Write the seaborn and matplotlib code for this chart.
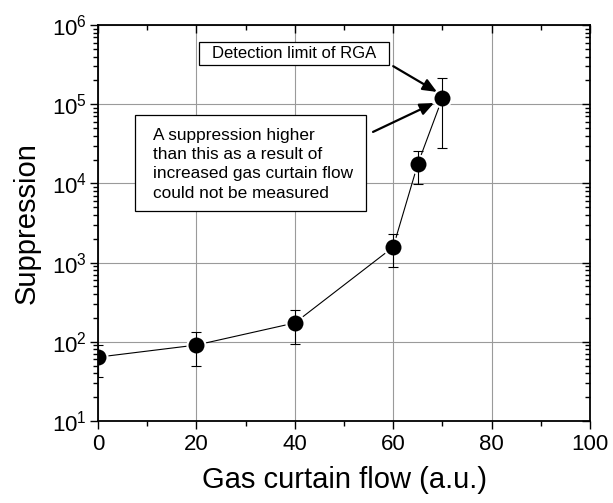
import matplotlib
matplotlib.use("Agg")
import matplotlib.pyplot as plt
import seaborn as sns
import pandas as pd
from matplotlib.patches import Rectangle
from matplotlib.ticker import LogLocator, MultipleLocator, NullFormatter

# ---- data ----
flow = [0, 20, 40, 60, 65, 70]
suppression = [64, 91, 173, 1570, 17600, 120000]
error = [28, 42, 79, 700, 7800, 92000]

x_ticks = [0, 20, 40, 60, 80, 100]
x_label = "Gas curtain flow (a.u.)"
y_label = "Suppression"
box1_text = "Detection limit of RGA"
box2_text = ("A suppression higher\nthan this as a result of\n"
             "increased gas curtain flow\ncould not be measured")

sns.set_theme(style="ticks")
plt.rcParams["font.family"] = ["Liberation Sans", "DejaVu Sans"]
plt.rcParams["mathtext.default"] = "regular"

df = pd.DataFrame({"flow": flow, "suppression": suppression, "error": error})

fig = plt.figure(figsize=(6.13, 5.03), dpi=100)
ax = fig.add_axes([98 / 613, 1 - 421 / 503, 492 / 613, 396 / 503])

ax.set_yscale("log")
ax.set_xlim(0, 100)
ax.set_ylim(10, 1e6)

ax.grid(True, which="major", color="#9a9a9a", linewidth=0.8, zorder=0)
ax.set_axisbelow(True)

sns.lineplot(data=df, x="flow", y="suppression", ax=ax, color="black",
             linewidth=0.8, marker="o", markersize=13,
             markerfacecolor="black", markeredgecolor="white",
             markeredgewidth=1.5, zorder=3, estimator=None, sort=False)
ax.errorbar(df["flow"], df["suppression"], yerr=df["error"], fmt="none",
            ecolor="black", elinewidth=0.8, capsize=3.5, capthick=0.8,
            zorder=4)

ax.set_xticks(x_ticks)
ax.xaxis.set_minor_locator(MultipleLocator(10))
ax.yaxis.set_major_locator(LogLocator(base=10, numticks=10))
ax.yaxis.set_minor_locator(LogLocator(base=10, subs=range(2, 10), numticks=20))
ax.yaxis.set_minor_formatter(NullFormatter())

ax.tick_params(axis="both", which="major", direction="out", length=6,
               width=1.0, labelsize=16, color="black", labelcolor="black")
ax.tick_params(axis="x", which="major", pad=3)
ax.tick_params(axis="y", which="major", pad=2)
ax.tick_params(axis="both", which="minor", direction="out", length=3.5,
               width=1.0, color="black")

for s in ax.spines.values():
    s.set_color("black")
    s.set_linewidth(1.3)

# top and right ticks pointing inward
axt = ax.twiny()
axt.set_xlim(ax.get_xlim())
axt.set_xticks(x_ticks)
axt.xaxis.set_minor_locator(MultipleLocator(10))
axt.tick_params(axis="x", which="major", direction="in", length=6, width=1.0,
                labeltop=False, color="black")
axt.tick_params(axis="x", which="minor", direction="in", length=3.5, width=1.0,
                color="black")
axr = ax.twinx()
axr.set_yscale("log")
axr.set_ylim(ax.get_ylim())
axr.yaxis.set_major_locator(LogLocator(base=10, numticks=10))
axr.yaxis.set_minor_locator(LogLocator(base=10, subs=range(2, 10), numticks=20))
axr.tick_params(axis="y", which="major", direction="in", length=6, width=1.0,
                labelright=False, color="black")
axr.tick_params(axis="y", which="minor", direction="in", length=3.5, width=1.0,
                color="black")
for a in (axt, axr):
    for s in a.spines.values():
        s.set_visible(False)
    a.grid(False)

ax.set_xlabel(x_label, fontsize=21, labelpad=8, color="black")
ax.set_ylabel(y_label, fontsize=21, labelpad=8, color="black")

# annotation boxes
ax.add_patch(Rectangle((0.205, 0.899), 0.386, 0.058, transform=ax.transAxes,
                       facecolor="white", edgecolor="black", linewidth=0.9,
                       zorder=5))
ax.text(0.398, 0.928, box1_text, transform=ax.transAxes, ha="center",
        va="center", fontsize=12, color="black", zorder=6)

ax.add_patch(Rectangle((0.075, 0.530), 0.470, 0.243, transform=ax.transAxes,
                       facecolor="white", edgecolor="black", linewidth=0.9,
                       zorder=5))
ax.text(0.112, 0.648, box2_text, transform=ax.transAxes, ha="left",
        va="center", fontsize=12.4, color="black", linespacing=1.35, zorder=6)

arrowprops = dict(arrowstyle="-|>,head_length=0.7,head_width=0.3",
                  color="black", linewidth=1.6, shrinkA=0, shrinkB=0)
ax.annotate("", xy=(0.689, 0.831), xytext=(0.600, 0.896),
            xycoords="axes fraction", textcoords="axes fraction",
            arrowprops=arrowprops, zorder=6)
ax.annotate("", xy=(0.683, 0.803), xytext=(0.559, 0.730),
            xycoords="axes fraction", textcoords="axes fraction",
            arrowprops=arrowprops, zorder=6)

fig.savefig("out.png", dpi=100, facecolor="white")
